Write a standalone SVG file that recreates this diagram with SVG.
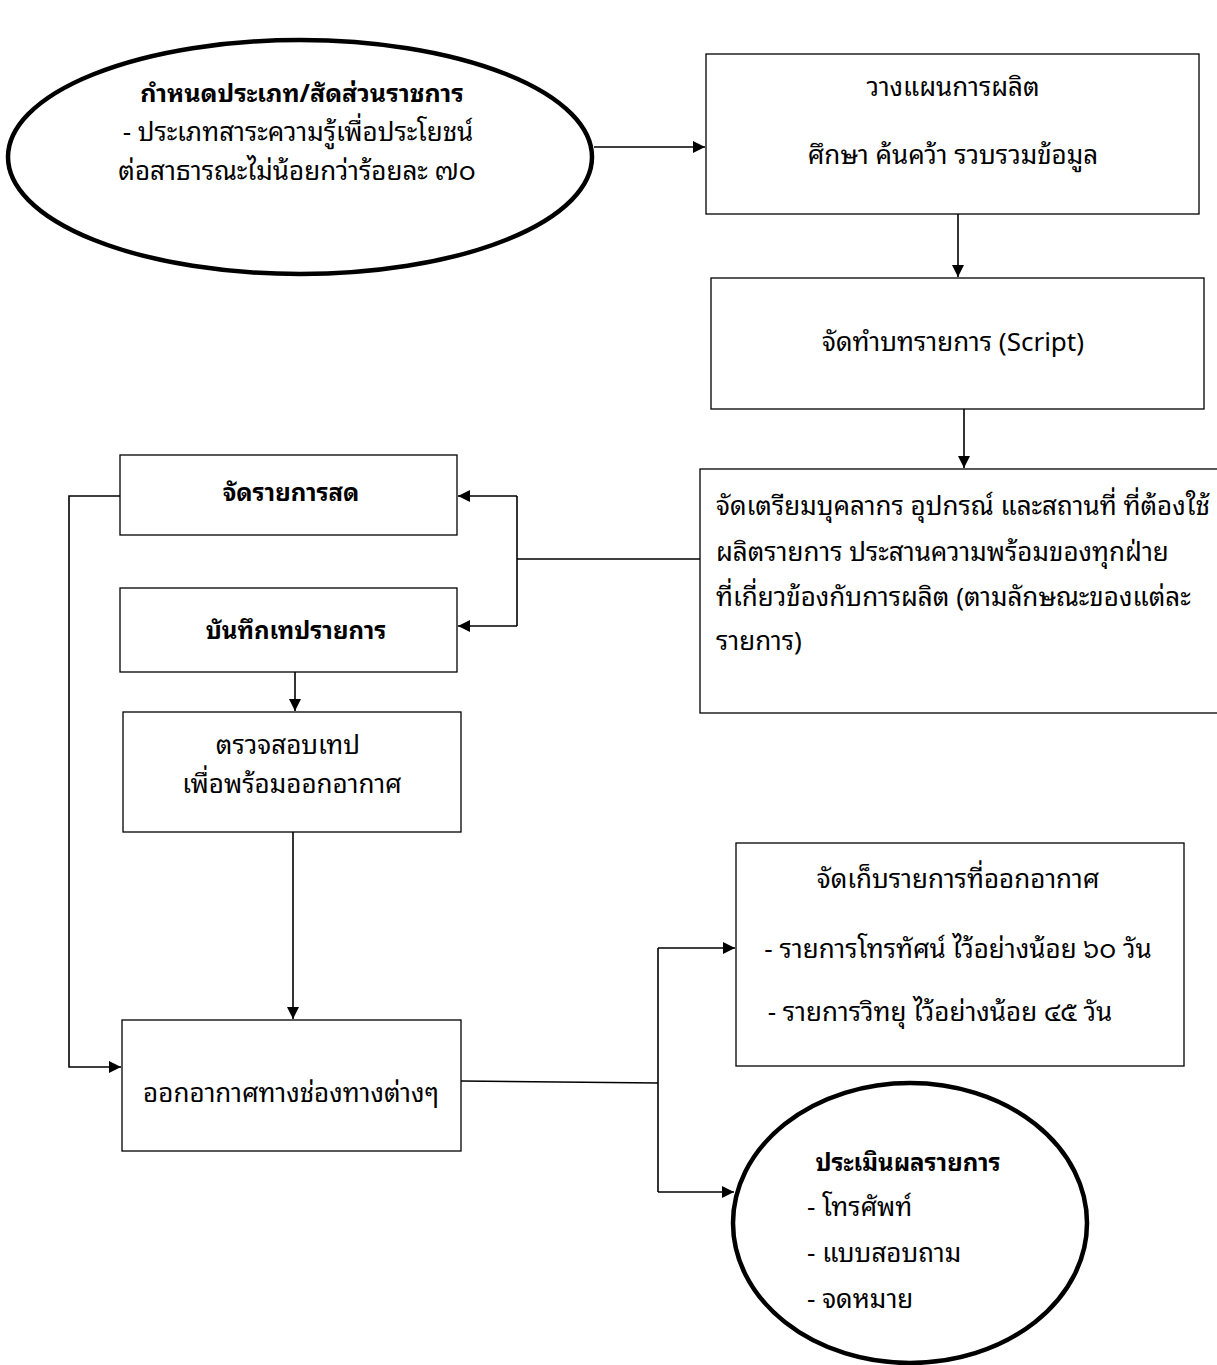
<svg xmlns="http://www.w3.org/2000/svg" width="1217" height="1365" viewBox="0 0 1217 1365">
<style>
text{font-family:"Noto Sans Thai Looped","Noto Serif Thai","Noto Sans Thai","Noto Sans",sans-serif;font-size:26px;fill:#000}
.b{font-weight:bold;font-size:24px}
.c{text-anchor:middle}
.box{fill:#fff;stroke:#000;stroke-width:1.3}
.ell{fill:#fff;stroke:#000;stroke-width:4.5}
.ln{fill:none;stroke:#000;stroke-width:1.6}
</style>
<defs>
<marker id="ah" viewBox="0 0 10 10" refX="10" refY="5" markerWidth="12" markerHeight="12" markerUnits="userSpaceOnUse" orient="auto">
<path d="M0,0 L10,5 L0,10 z" fill="#000"/>
</marker>
</defs>
<rect width="1217" height="1365" fill="#fff"/>
<g id="connectors">
<line class="ln" x1="594" y1="147" x2="705" y2="147" marker-end="url(#ah)"/>
<line class="ln" x1="958" y1="214" x2="958" y2="277" marker-end="url(#ah)"/>
<line class="ln" x1="964" y1="409" x2="964" y2="468" marker-end="url(#ah)"/>
<line class="ln" x1="700" y1="559" x2="517" y2="559"/>
<line class="ln" x1="517" y1="496" x2="517" y2="626"/>
<line class="ln" x1="517" y1="496" x2="458" y2="496" marker-end="url(#ah)"/>
<line class="ln" x1="517" y1="626" x2="458" y2="626" marker-end="url(#ah)"/>
<polyline class="ln" points="120,496 69,496 69,1067 121,1067" marker-end="url(#ah)"/>
<line class="ln" x1="295" y1="672" x2="295" y2="711" marker-end="url(#ah)"/>
<line class="ln" x1="293" y1="832" x2="293" y2="1019" marker-end="url(#ah)"/>
<polyline class="ln" points="461,1081 658,1083"/>
<line class="ln" x1="658" y1="948" x2="658" y2="1192"/>
<line class="ln" x1="658" y1="948" x2="735" y2="948" marker-end="url(#ah)"/>
<line class="ln" x1="658" y1="1192" x2="734" y2="1192" marker-end="url(#ah)"/>
</g>
<g id="n1">
<ellipse class="ell" cx="300" cy="157" rx="292" ry="117"/>
<text class="b c" x="302" y="102" style="font-size:25px">กำหนดประเภท/สัดส่วนราชการ</text>
<text class="c" x="298" y="141">-  ประเภทสาระความรู้เพื่อประโยชน์</text>
<text class="c" x="297" y="180">ต่อสาธารณะไม่น้อยกว่าร้อยละ ๗๐</text>
</g>
<g id="n2">
<rect class="box" x="706" y="54" width="493" height="160"/>
<text class="c" x="953" y="96">วางแผนการผลิต</text>
<text class="c" x="953" y="164">ศึกษา ค้นคว้า รวบรวมข้อมูล</text>
</g>
<g id="n3">
<rect class="box" x="711" y="278" width="493" height="131"/>
<text class="c" x="953" y="351">จัดทำบทรายการ (Script)</text>
</g>
<g id="n4">
<rect class="box" x="700" y="469" width="530" height="244"/>
<text x="716" y="515">จัดเตรียมบุคลากร อุปกรณ์ และสถานที่ ที่ต้องใช้</text>
<text x="716" y="561">ผลิตรายการ ประสานความพร้อมของทุกฝ่าย</text>
<text x="716" y="606">ที่เกี่ยวข้องกับการผลิต (ตามลักษณะของแต่ละ</text>
<text x="716" y="650">รายการ)</text>
</g>
<g id="n5">
<rect class="box" x="120" y="455" width="337" height="80"/>
<text class="b c" x="291" y="501">จัดรายการสด</text>
</g>
<g id="n6">
<rect class="box" x="120" y="588" width="337" height="84"/>
<text class="b c" x="296" y="639">บันทึกเทปรายการ</text>
</g>
<g id="n7">
<rect class="box" x="123" y="712" width="338" height="120"/>
<text class="c" x="288" y="754">ตรวจสอบเทป</text>
<text class="c" x="292" y="793">เพื่อพร้อมออกอากาศ</text>
</g>
<g id="n8">
<rect class="box" x="122" y="1020" width="339" height="131"/>
<text class="c" x="291" y="1102">ออกอากาศทางช่องทางต่างๆ</text>
</g>
<g id="n9">
<rect class="box" x="736" y="843" width="448" height="223"/>
<text class="c" x="958" y="888">จัดเก็บรายการที่ออกอากาศ</text>
<text class="c" x="958" y="958">- รายการโทรทัศน์ ไว้อย่างน้อย ๖๐ วัน</text>
<text class="c" x="940" y="1021">- รายการวิทยุ ไว้อย่างน้อย ๔๕ วัน</text>
</g>
<g id="n10">
<ellipse class="ell" cx="910" cy="1223" rx="177" ry="140"/>
<text class="b c" x="908" y="1171">ประเมินผลรายการ</text>
<text x="807" y="1216">- โทรศัพท์</text>
<text x="807" y="1262">- แบบสอบถาม</text>
<text x="807" y="1308">- จดหมาย</text>
</g>
</svg>
